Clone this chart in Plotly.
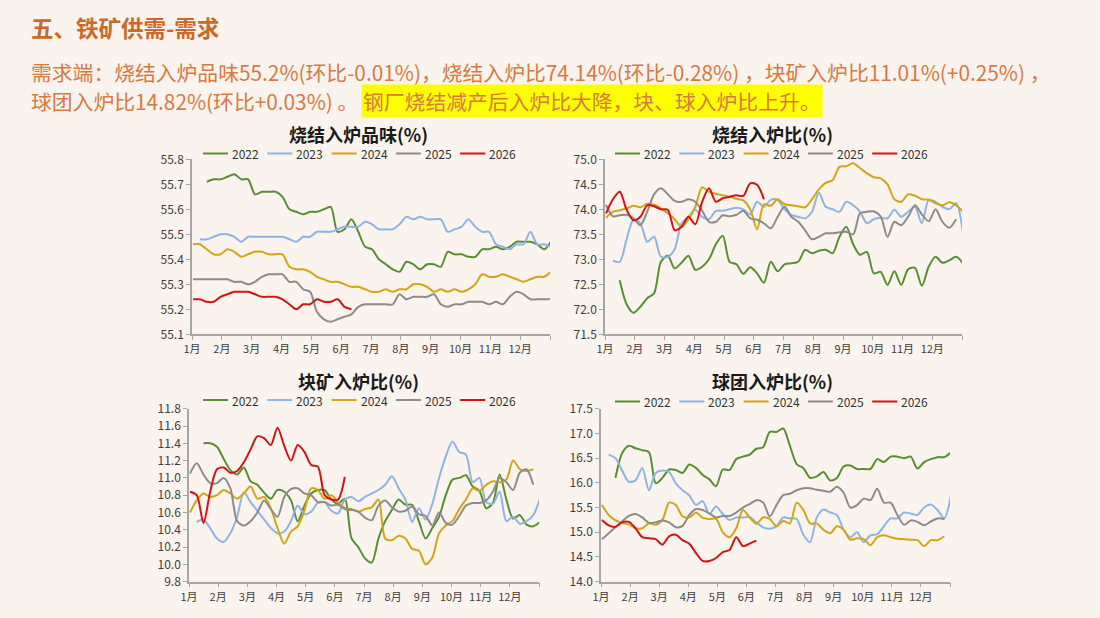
import plotly.graph_objects as go

# ---------------- data (weekly values; start = index of first week, 0-based) ----------------
years = ["2022", "2023", "2024", "2025", "2026"]
months = ["1月", "2月", "3月", "4月", "5月", "6月", "7月", "8月", "9月", "10月", "11月", "12月"]

# 烧结入炉品味(%)
grade_2022 = [55.71, 55.72, 55.72, 55.73, 55.74, 55.72, 55.72, 55.66, 55.67, 55.67, 55.67, 55.65, 55.60, 55.59,
              55.58, 55.59, 55.59, 55.60, 55.61, 55.51, 55.52, 55.56, 55.51, 55.45, 55.44, 55.40, 55.38, 55.36,
              55.35, 55.39, 55.38, 55.36, 55.38, 55.38, 55.37, 55.43, 55.42, 55.42, 55.41, 55.41, 55.44, 55.44,
              55.45, 55.44, 55.45, 55.47, 55.47, 55.47, 55.46, 55.44, 55.47]
grade_2023 = [55.48, 55.48, 55.49, 55.50, 55.50, 55.49, 55.47, 55.49, 55.49, 55.49, 55.49, 55.49, 55.49, 55.48,
              55.47, 55.49, 55.49, 55.51, 55.51, 55.51, 55.52, 55.53, 55.53, 55.53, 55.55, 55.54, 55.52, 55.52,
              55.52, 55.54, 55.57, 55.56, 55.57, 55.56, 55.56, 55.56, 55.51, 55.52, 55.53, 55.56, 55.53, 55.51,
              55.51, 55.46, 55.45, 55.44, 55.46, 55.46, 55.51, 55.46, 55.46, 55.45]
grade_2024 = [55.46, 55.46, 55.44, 55.42, 55.42, 55.44, 55.43, 55.41, 55.42, 55.43, 55.43, 55.42, 55.42, 55.42,
              55.37, 55.36, 55.36, 55.35, 55.33, 55.32, 55.31, 55.31, 55.30, 55.29, 55.29, 55.28, 55.27, 55.27,
              55.28, 55.27, 55.28, 55.28, 55.30, 55.30, 55.29, 55.27, 55.28, 55.27, 55.28, 55.27, 55.28, 55.30,
              55.34, 55.33, 55.33, 55.34, 55.33, 55.32, 55.31, 55.32, 55.33, 55.33, 55.35]
grade_2025 = [55.32, 55.32, 55.32, 55.32, 55.32, 55.32, 55.31, 55.31, 55.30, 55.31, 55.33, 55.34, 55.34, 55.34,
              55.31, 55.31, 55.28, 55.27, 55.19, 55.16, 55.15, 55.16, 55.17, 55.18, 55.21, 55.22, 55.22, 55.22,
              55.22, 55.22, 55.26, 55.24, 55.25, 55.25, 55.25, 55.26, 55.22, 55.21, 55.22, 55.22, 55.23, 55.23,
              55.23, 55.22, 55.23, 55.22, 55.25, 55.27, 55.26, 55.24, 55.24, 55.24, 55.24]
grade_2026 = [55.24, 55.24, 55.23, 55.23, 55.25, 55.26, 55.27, 55.27, 55.27, 55.26, 55.25, 55.25, 55.25, 55.24,
              55.22, 55.20, 55.22, 55.22, 55.24, 55.23, 55.23, 55.24, 55.21, 55.20]
grade_start = [2, 1, 0, 0, 0]

# 烧结入炉比(%)
sinter_2022 = [72.58, 72.10, 71.93, 72.05, 72.22, 72.32, 72.95, 73.07, 72.82, 72.93, 73.07, 72.79, 72.85, 73.00,
               73.30, 73.47, 72.95, 72.90, 72.71, 72.84, 72.72, 72.53, 72.95, 72.76, 72.90, 72.92, 72.95, 73.19,
               73.12, 73.17, 73.19, 73.12, 73.45, 73.65, 73.30, 73.09, 73.15, 72.72, 72.75, 72.49, 72.76, 72.49,
               72.80, 72.83, 72.47, 72.85, 73.05, 72.93, 72.98, 73.05, 72.92]
sinter_2023 = [72.97, 72.95, 73.40, 73.79, 73.72, 73.35, 73.45, 73.05, 73.05, 73.20, 73.72, 73.85, 73.99, 73.85,
               73.80, 73.97, 73.97, 74.00, 74.03, 74.00, 73.90, 74.15, 74.05, 74.19, 74.19, 74.00, 73.89, 73.85,
               73.82, 73.95, 74.33, 74.05, 74.00, 73.95, 74.15, 74.08, 73.95, 73.72, 73.80, 73.83, 73.82, 73.99,
               73.85, 73.95, 74.05, 73.72, 74.19, 74.15, 74.05, 74.00, 74.12, 73.52]
sinter_2024 = [73.83, 73.95, 73.98, 74.02, 74.07, 74.04, 74.11, 74.09, 74.02, 73.92, 73.80, 73.65, 73.80, 74.05,
               74.44, 74.35, 74.31, 74.28, 74.25, 74.21, 74.18, 74.00, 73.60, 74.10, 74.07, 74.20, 74.10, 74.08,
               74.06, 74.04, 74.20, 74.40, 74.53, 74.58, 74.85, 74.86, 74.92, 74.82, 74.72, 74.64, 74.62, 74.50,
               74.20, 74.15, 74.30, 74.27, 74.20, 74.19, 74.12, 74.08, 74.14, 74.08, 73.95]
sinter_2025 = [74.09, 73.86, 73.88, 73.89, 73.82, 73.68, 73.95, 74.30, 74.42, 74.30, 74.17, 74.15, 74.20, 74.15,
               73.97, 73.75, 73.75, 73.88, 73.86, 73.89, 73.97, 73.82, 73.79, 73.72, 73.62, 73.85, 74.05, 73.85,
               73.75, 73.58, 73.40, 73.45, 73.52, 73.52, 73.54, 73.55, 73.50, 73.92, 73.95, 73.96, 73.86, 73.45,
               73.75, 73.68, 73.85, 74.08, 73.90, 73.76, 74.00, 73.75, 73.63, 73.80]
sinter_2026 = [73.92, 74.20, 74.35, 73.99, 73.78, 73.85, 74.08, 74.06, 74.00, 73.99, 73.58, 73.65, 73.85, 73.70,
               74.15, 74.42, 74.15, 74.22, 74.25, 74.28, 74.27, 74.52, 74.49, 74.20]
sinter_start = [2, 1, 0, 0, 0]

# 块矿入炉比(%)
lump_2022 = [11.40, 11.40, 11.36, 11.22, 11.09, 11.04, 11.12, 10.96, 10.92, 10.83, 10.76, 10.86, 10.84, 10.74,
             10.50, 10.68, 10.82, 10.86, 10.86, 10.75, 10.70, 10.76, 10.30, 10.20, 10.07, 10.02, 10.30, 10.50,
             10.63, 10.75, 10.69, 10.69, 10.50, 10.30, 10.42, 10.55, 10.80, 10.98, 11.00, 11.03, 10.90, 10.85,
             10.65, 10.71, 11.04, 10.75, 10.53, 10.57, 10.46, 10.44, 10.49]
lump_2023 = [10.49, 10.52, 10.42, 10.30, 10.26, 10.36, 10.55, 10.83, 10.72, 10.62, 10.52, 10.42, 10.36, 10.38,
             10.50, 10.68, 10.58, 10.61, 10.71, 10.72, 10.62, 10.59, 10.75, 10.78, 10.73, 10.78, 10.82, 10.86,
             10.92, 11.02, 10.88, 10.75, 10.49, 10.65, 10.52, 10.70, 11.00, 11.25, 11.42, 11.30, 11.27, 10.95,
             11.00, 10.72, 10.70, 10.84, 10.50, 10.55, 10.47, 10.50, 10.57, 10.76]
lump_2024 = [10.60, 10.74, 10.82, 10.78, 10.80, 10.86, 10.82, 10.76, 10.82, 10.90, 10.76, 10.78, 10.65, 10.42,
             10.24, 10.38, 10.44, 10.62, 10.88, 10.86, 10.76, 10.80, 10.72, 10.65, 10.64, 10.61, 10.64, 10.66,
             10.75, 10.30, 10.28, 10.33, 10.30, 10.18, 10.16, 10.00, 10.08, 10.36, 10.45, 10.50, 10.64, 10.75,
             10.88, 10.85, 10.92, 10.96, 10.95, 10.98, 11.20, 11.10, 11.08, 11.10]
lump_2025 = [11.05, 11.17, 11.04, 10.94, 10.94, 11.00, 10.88, 10.50, 10.45, 10.50, 10.60, 10.74, 10.64, 10.55,
             10.78, 10.87, 10.88, 10.82, 10.80, 10.72, 10.72, 10.68, 10.69, 10.64, 10.63, 10.61, 10.54, 10.51,
             10.68, 10.74, 10.66, 10.61, 10.62, 10.67, 10.58, 10.56, 10.45, 10.60, 10.48, 10.46, 10.56, 10.68,
             10.71, 10.71, 10.74, 10.84, 11.00, 10.95, 10.86, 11.06, 11.10, 10.92]
lump_2026 = [10.84, 10.80, 10.48, 10.84, 11.10, 11.12, 11.06, 11.08, 11.18, 11.33, 11.48, 11.46, 11.38, 11.58,
             11.37, 11.20, 11.38, 11.30, 11.15, 11.13, 10.80, 10.75, 10.75, 11.01]
lump_start = [2, 1, 0, 0, 0]

# 球团入炉比(%)
pellet_2022 = [16.10, 16.60, 16.75, 16.70, 16.66, 16.62, 15.99, 16.10, 16.27, 16.26, 16.20, 16.37, 16.30, 16.16,
               16.07, 15.93, 16.27, 16.26, 16.48, 16.53, 16.57, 16.69, 16.72, 17.03, 17.03, 17.10, 16.75, 16.38,
               16.30, 16.10, 16.13, 16.22, 16.05, 16.10, 16.33, 16.35, 16.28, 16.28, 16.28, 16.48, 16.42, 16.53,
               16.53, 16.50, 16.53, 16.29, 16.42, 16.48, 16.52, 16.52, 16.62]
pellet_2023 = [16.57, 16.50, 16.25, 16.02, 16.05, 16.30, 15.85, 16.20, 16.25, 16.22, 15.99, 15.85, 15.75, 15.55,
               15.63, 15.37, 15.52, 15.37, 15.25, 15.30, 15.30, 15.31, 15.20, 15.10, 15.07, 15.12, 15.30, 15.28,
               15.27, 14.95, 14.80, 15.30, 15.46, 15.40, 15.35, 15.05, 14.90, 15.00, 14.80, 14.94, 14.96, 15.12,
               15.28, 15.28, 15.40, 15.38, 15.35, 15.50, 15.56, 15.45, 15.28, 15.75]
pellet_2024 = [15.55, 15.35, 15.24, 15.19, 15.16, 15.08, 15.08, 15.18, 15.15, 15.25, 15.60, 15.55, 15.32, 15.30,
               15.40, 15.29, 15.27, 15.27, 15.00, 14.90, 15.08, 15.45, 15.30, 15.17, 15.30, 15.27, 15.12, 15.23,
               15.18, 15.60, 15.45, 15.18, 15.18, 15.05, 14.98, 15.12, 15.05, 14.85, 14.88, 14.86, 14.74, 14.90,
               14.94, 14.90, 14.87, 14.86, 14.85, 14.84, 14.72, 14.84, 14.84, 14.92]
pellet_2025 = [14.86, 14.98, 15.10, 15.22, 15.33, 15.37, 15.30, 15.19, 15.20, 15.24, 15.20, 15.10, 15.13, 15.35,
               15.47, 15.45, 15.38, 15.30, 15.33, 15.33, 15.40, 15.50, 15.57, 15.65, 15.60, 15.32, 15.55, 15.75,
               15.78, 15.85, 15.89, 15.89, 15.86, 15.84, 15.82, 15.92, 15.80, 15.50, 15.55, 15.68, 15.65, 15.88,
               15.60, 15.60, 15.35, 15.15, 15.24, 15.21, 15.14, 15.22, 15.28, 15.27]
pellet_2026 = [15.25, 15.14, 15.11, 15.20, 15.21, 15.08, 14.90, 14.88, 14.86, 14.75, 14.92, 14.95, 14.84, 14.77,
               14.58, 14.42, 14.42, 14.48, 14.60, 14.64, 14.90, 14.72, 14.77, 14.83]
pellet_start = [2, 1, 0, 0, 0]

charts = [
    dict(title="烧结入炉品味(%)", series=[grade_2022, grade_2023, grade_2024, grade_2025, grade_2026],
         start=grade_start, yr=[55.1, 55.8], dtick=0.1, fmt=".1f"),
    dict(title="烧结入炉比(%)", series=[sinter_2022, sinter_2023, sinter_2024, sinter_2025, sinter_2026],
         start=sinter_start, yr=[71.5, 75.0], dtick=0.5, fmt=".1f"),
    dict(title="块矿入炉比(%)", series=[lump_2022, lump_2023, lump_2024, lump_2025, lump_2026],
         start=lump_start, yr=[9.8, 11.8], dtick=0.2, fmt=".1f"),
    dict(title="球团入炉比(%)", series=[pellet_2022, pellet_2023, pellet_2024, pellet_2025, pellet_2026],
         start=pellet_start, yr=[14.0, 17.5], dtick=0.5, fmt=".1f"),
]

# ---------------- styling ----------------
W, H = 1100, 618
BG = "#FBF3EE"
FONT = "Noto Sans CJK SC"
colors = ["#5A8E32", "#8EB4E6", "#D4A514", "#8C8C8C", "#D21414"]

# plot areas in pixels: (x0, x1, ytop, ybottom)
boxes = [(192, 550, 159.3, 334.3), (605, 962, 159.3, 334.3),
         (189, 539, 408.7, 581.7), (601, 950, 408.7, 581.7)]
title_pos = [(358, 134), (772, 134), (358, 380.5), (772, 380.5)]
# legend: first line start x, centre y
legend_pos = [(203, 153.5), (615, 153.5), (203, 400), (615, 401.5)]
LEG_STEP, LEG_LINE, LEG_GAP = 64.3, 25, 3


def px(x):
    return x / W


def py(y):
    return 1 - y / H


fig = go.Figure()
layout = dict(width=W, height=H, margin=dict(l=0, r=0, t=0, b=0, autoexpand=False), showlegend=False,
              paper_bgcolor=BG, plot_bgcolor=BG, font=dict(family=FONT, color="#333333"))
annotations = []
shapes = []

for k, ch in enumerate(charts):
    sfx = "" if k == 0 else str(k + 1)
    for j, vals in enumerate(ch["series"]):
        s = ch["start"][j]
        xs = [(s + i + 0.15) * 12 / 52 for i in range(len(vals))]
        fig.add_trace(go.Scatter(x=xs, y=vals, mode="lines", name=years[j],
                                 line=dict(color=colors[j], width=2, shape="spline", smoothing=0.8),
                                 xaxis="x" + sfx, yaxis="y" + sfx, hoverinfo="skip"))
    x0, x1, yt, yb = boxes[k]
    layout["xaxis" + sfx] = dict(domain=[px(x0), px(x1)], anchor="y" + sfx, range=[0, 12], automargin=False,
                                 tickvals=list(range(13)), ticktext=months + [""],
                                 showline=True, linecolor="#A6A6A6", linewidth=1.5,
                                 ticks="outside", ticklen=4, tickcolor="#A6A6A6",
                                 showgrid=False, zeroline=False,
                                 tickfont=dict(size=11, color="#404040", family=FONT))
    layout["yaxis" + sfx] = dict(domain=[py(yb), py(yt)], anchor="x" + sfx, range=ch["yr"], automargin=False,
                                 dtick=ch["dtick"], tick0=ch["yr"][0], tickformat=ch["fmt"],
                                 showline=True, linecolor="#A6A6A6", linewidth=1.5,
                                 ticks="outside", ticklen=4, tickcolor="#A6A6A6",
                                 showgrid=False, zeroline=False,
                                 tickfont=dict(size=12, color="#404040", family=FONT))
    # legend (drawn as paper-positioned line samples + labels)
    lx, ly = legend_pos[k]
    for j, name in enumerate(years):
        sx = lx + j * LEG_STEP
        shapes.append(dict(type="line", xref="paper", yref="paper", x0=px(sx), x1=px(sx + LEG_LINE),
                           y0=py(ly), y1=py(ly), line=dict(color=colors[j], width=2)))
        annotations.append(dict(text=name, x=px(sx + LEG_LINE + LEG_GAP), y=py(ly), xref="paper", yref="paper",
                                xanchor="left", yanchor="middle", showarrow=False, borderpad=0,
                                font=dict(size=12, color="#333333", family=FONT)))
    tx, ty = title_pos[k]
    annotations.append(dict(text=f"<b>{ch['title']}</b>", x=px(tx), y=py(ty), xref="paper", yref="paper",
                            xanchor="center", yanchor="middle", showarrow=False, borderpad=0,
                            font=dict(size=18, color="#1A1A1A", family=FONT)))

TITLE_C = "#C96A2B"
TEXT_C = "#D97A3F"
annotations.append(dict(text="<b>五、铁矿供需-需求</b>", x=px(29), y=py(27), xref="paper", yref="paper",
                        xanchor="left", yanchor="middle", showarrow=False,
                        font=dict(size=22.5, color=TITLE_C, family=FONT)))
annotations.append(dict(text="需求端：烧结入炉品味55.2%(环比-0.01%)，烧结入炉比74.14%(环比-0.28%) ，块矿入炉比11.01%(+0.25%) ，",
                        x=px(29), y=py(72), xref="paper", yref="paper", xanchor="left", yanchor="middle",
                        showarrow=False, font=dict(size=20.8, color=TEXT_C, family=FONT)))
annotations.append(dict(text="球团入炉比14.82%(环比+0.03%) 。",
                        x=px(29), y=py(101), xref="paper", yref="paper", xanchor="left", yanchor="middle",
                        showarrow=False, font=dict(size=20.8, color=TEXT_C, family=FONT)))
annotations.append(dict(text="钢厂烧结减产后入炉比大降，块、球入炉比上升。",
                        x=px(361), y=py(101.5), xref="paper", yref="paper", xanchor="left", yanchor="middle",
                        showarrow=False, bgcolor="#FFFF00", borderpad=1,
                        font=dict(size=20.8, color=TEXT_C, family=FONT)))
layout["annotations"] = annotations
layout["shapes"] = shapes
fig.update_layout(**layout)
fig.write_html("out.html")
